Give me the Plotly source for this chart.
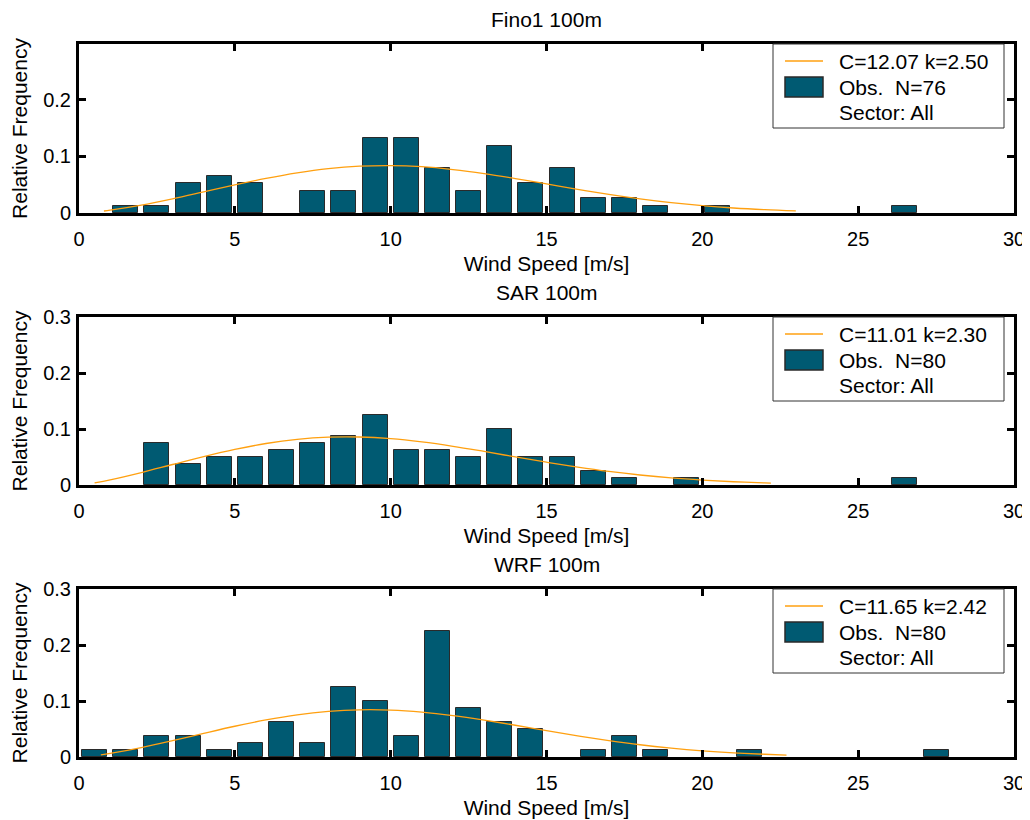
import plotly.graph_objects as go

# ---------------- data ----------------
titles = ["Fino1 100m", "SAR 100m", "WRF 100m"]
fit_labels = ["C=12.07 k=2.50", "C=11.01 k=2.30", "C=11.65 k=2.42"]
obs_labels = ["Obs.\u00a0 N=76", "Obs.\u00a0 N=80", "Obs.\u00a0 N=80"]
sector_label = "Sector: All"

fino_speed = [1.5, 2.5, 3.5, 4.5, 5.5, 7.5, 8.5, 9.5, 10.5, 11.5, 12.5, 13.5,
              14.5, 15.5, 16.5, 17.5, 18.5, 20.5, 26.5]
fino_freq = [0.013, 0.013, 0.053, 0.066, 0.053, 0.039, 0.039, 0.132, 0.132, 0.079,
             0.039, 0.118, 0.053, 0.079, 0.026, 0.026, 0.013, 0.013, 0.013]

sar_speed = [2.5, 3.5, 4.5, 5.5, 6.5, 7.5, 8.5, 9.5, 10.5, 11.5, 12.5, 13.5,
             14.5, 15.5, 16.5, 17.5, 19.5, 26.5]
sar_freq = [0.075, 0.0375, 0.05, 0.05, 0.0625, 0.075, 0.0875, 0.125, 0.0625, 0.0625,
            0.05, 0.1, 0.05, 0.05, 0.025, 0.0125, 0.0125, 0.0125]

wrf_speed = [0.5, 1.5, 2.5, 3.5, 4.5, 5.5, 6.5, 7.5, 8.5, 9.5, 10.5, 11.5, 12.5,
             13.5, 14.5, 16.5, 17.5, 18.5, 21.5, 27.5]
wrf_freq = [0.0125, 0.0125, 0.0375, 0.0375, 0.0125, 0.025, 0.0625, 0.025, 0.125, 0.1,
            0.0375, 0.225, 0.0875, 0.0625, 0.05, 0.0125, 0.0375, 0.0125, 0.0125, 0.0125]

# Weibull fit curves
fino_fit_x = [0.8, 1, 2, 3, 4, 5, 6, 7, 8, 9, 10, 11, 12, 13, 14, 15, 16, 17, 18,
              19, 20, 21, 22, 23]
fino_fit_y = [0.0035, 0.0049, 0.0138, 0.0249, 0.0371, 0.0495, 0.0610, 0.0708, 0.0782,
              0.0825, 0.0836, 0.0816, 0.0766, 0.0695, 0.0608, 0.0513, 0.0418, 0.0329,
              0.0250, 0.0183, 0.0129, 0.0088, 0.0058, 0.0036]

sar_fit_x = [0.5, 1, 2, 3, 4, 5, 6, 7, 8, 9, 10, 11, 12, 13, 14, 15, 16, 17, 18,
             19, 20, 21, 22, 22.2]
sar_fit_y = [0.0038, 0.0092, 0.0223, 0.0366, 0.0508, 0.0636, 0.0741, 0.0815, 0.0854,
             0.0857, 0.0827, 0.0769, 0.0691, 0.0599, 0.0502, 0.0407, 0.0320, 0.0243,
             0.0179, 0.0127, 0.0088, 0.0058, 0.0038, 0.0034]

wrf_fit_x = [0.7, 1, 2, 3, 4, 5, 6, 7, 8, 9, 10, 11, 12, 13, 14, 15, 16, 17, 18,
             19, 20, 21, 22, 22.7]
wrf_fit_y = [0.0038, 0.0063, 0.0168, 0.0291, 0.0422, 0.0549, 0.0662, 0.0753, 0.0814,
             0.0843, 0.0838, 0.0802, 0.0740, 0.0659, 0.0567, 0.0471, 0.0378, 0.0293,
             0.0219, 0.0159, 0.0111, 0.0075, 0.0049, 0.0035]

x_ticks = [0, 5, 10, 15, 20, 25, 30]
x_ticklabels = ["0", "5", "10", "15", "20", "25", "30"]
y_ticks = [0, 0.1, 0.2, 0.3]
y_ticklabels = ["0", "0.1", "0.2", "0.3"]
y_top = [0.298, 0.3, 0.3]

# ---------------- styling ----------------
# the page body has an 8px margin, so the figure is drawn 8px in from the corner
W, H = 1022, 812
ML, MR, MT, MB = 71, 16, 36, 63
BAR_COLOR = "#005A72"
BAR_EDGE = "#2a2a2a"
LINE_COLOR = "#FFA010"
FONT = "Liberation Sans, Arial, Helvetica, sans-serif"

plot_h = H - MT - MB
panel_px = [(36, 205), (309, 477), (581, 749)]  # (top, bottom) in figure pixels
domains = [[(H - MB - b) / plot_h, (H - MB - t) / plot_h] for (t, b) in panel_px]

speeds = [fino_speed, sar_speed, wrf_speed]
freqs = [fino_freq, sar_freq, wrf_freq]
fit_x = [fino_fit_x, sar_fit_x, wrf_fit_x]
fit_y = [fino_fit_y, sar_fit_y, wrf_fit_y]

fig = go.Figure()

for i in range(3):
    xa = "x" if i == 0 else f"x{i+1}"
    ya = "y" if i == 0 else f"y{i+1}"
    fig.add_trace(go.Scatter(
        x=fit_x[i], y=fit_y[i], mode="lines",
        line=dict(color=LINE_COLOR, width=1.3, shape="spline"),
        name=fit_labels[i], xaxis=xa, yaxis=ya, showlegend=False, hoverinfo="skip"))
    fig.add_trace(go.Bar(
        x=speeds[i], y=freqs[i], width=0.8, name=obs_labels[i],
        marker=dict(color=BAR_COLOR, line=dict(color=BAR_EDGE, width=1)),
        xaxis=xa, yaxis=ya, showlegend=False))

layout = dict(
    width=W, height=H,
    margin=dict(l=ML, r=MR, t=MT, b=MB, pad=0),
    paper_bgcolor="white", plot_bgcolor="white",
    font=dict(family=FONT, size=21, color="black"),
    showlegend=False, bargap=0,
)

shapes = []
annotations = []
for i in range(3):
    xk = "xaxis" if i == 0 else f"xaxis{i+1}"
    yk = "yaxis" if i == 0 else f"yaxis{i+1}"
    ya = "y" if i == 0 else f"y{i+1}"
    xa = "x" if i == 0 else f"x{i+1}"
    layout[xk] = dict(
        domain=[0, 1], anchor=ya, range=[0, 30], tickvals=x_ticks, ticktext=x_ticklabels,
        ticks="inside", ticklen=7, tickwidth=3, tickcolor="black",
        showline=True, linewidth=3, linecolor="black", mirror="ticks",
        showgrid=False, zeroline=False, automargin=False,
        tickfont=dict(size=20), ticklabelstandoff=6,
        title=dict(text="Wind Speed [m/s]", font=dict(size=21), standoff=8),
    )
    layout[yk] = dict(
        domain=domains[i], anchor=xa, range=[0, y_top[i]], tickvals=y_ticks, ticktext=y_ticklabels,
        ticks="inside", ticklen=7, tickwidth=3, tickcolor="black",
        showline=True, linewidth=3, linecolor="black", mirror="ticks",
        showgrid=False, zeroline=False, automargin=False,
        tickfont=dict(size=20), ticklabelstandoff=1,
        title=dict(text="Relative Frequency", font=dict(size=21), standoff=11),
    )

    # legend box (pixel offsets from the top-right corner of the panel)
    xd = f"{xa} domain"
    yd = f"{ya} domain"
    box = dict(xref=xd, yref=yd, xsizemode="pixel", ysizemode="pixel", xanchor=1, yanchor=1,
               layer="above")
    shapes.append(dict(type="rect", x0=-241, x1=-10, y0=-84, y1=0,
                       fillcolor="white", line=dict(color="#333333", width=1), **box))
    shapes.append(dict(type="line", x0=-229, x1=-191, y0=-17, y1=-17,
                       line=dict(color=LINE_COLOR, width=1.3), **box))
    shapes.append(dict(type="rect", x0=-229, x1=-191, y0=-53, y1=-33,
                       fillcolor=BAR_COLOR, line=dict(color=BAR_EDGE, width=1.5), **box))
    for txt, dy in zip([fit_labels[i], obs_labels[i], sector_label], [-17, -43, -68]):
        annotations.append(dict(
            text=txt, x=1, xref=xd, y=1, yref=yd, xanchor="left", yanchor="middle",
            xshift=-177, yshift=dy, showarrow=False, font=dict(size=21)))

    annotations.append(dict(
        text=titles[i], x=0.5, xref="paper", y=domains[i][1], yref="paper",
        xanchor="center", yanchor="bottom", yshift=11, showarrow=False,
        font=dict(size=21)))

layout["shapes"] = shapes
layout["annotations"] = annotations

fig.update_layout(**layout)
fig.write_html("out.html")
